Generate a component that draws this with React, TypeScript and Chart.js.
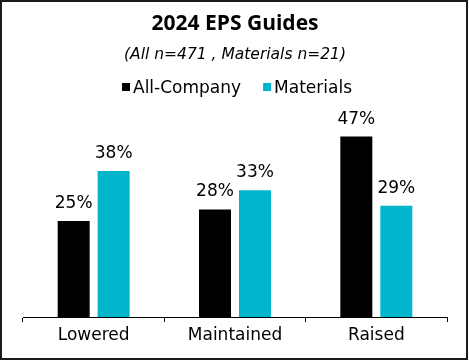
import React, { useEffect, useRef } from "react";
import { Chart, registerables } from "chart.js";

Chart.register(...registerables);

const categories = ["Lowered", "Maintained", "Raised"];
const allCompany = [25, 28, 47];
const materials = [38, 33, 29];
const seriesNames = ["All-Company", "Materials"];
const titleText = "2024 EPS Guides";
const subtitleText = "(All n=471 , Materials n=21)";

const BLACK = "#000000";
const CYAN = "#00B5CC";
const FONT = "'DejaVu Sans', sans-serif";

const frameAndLabels = {
  id: "frameAndLabels",
  afterDatasetsDraw(chart: any) {
    const ctx = chart.ctx;
    ctx.save();
    ctx.fillStyle = "#000";
    ctx.font = `17px ${FONT}`;
    ctx.textAlign = "center";
    ctx.textBaseline = "alphabetic";
    chart.data.datasets.forEach((ds: any, i: number) => {
      const meta = chart.getDatasetMeta(i);
      meta.data.forEach((bar: any, j: number) => {
        ctx.fillText(`${ds.data[j]}%`, bar.x, bar.y - 13);
      });
    });
    ctx.restore();
  },
  afterDraw(chart: any) {
    const ctx = chart.ctx;
    ctx.save();
    // custom legend
    ctx.font = `17px ${FONT}`;
    ctx.textBaseline = "alphabetic";
    ctx.textAlign = "left";
    const box = 8;
    const gapText = 3;
    const gapItem = 22;
    const items = chart.data.datasets.map((ds: any) => ({
      label: ds.label,
      color: ds.backgroundColor,
      w: ctx.measureText(ds.label).width,
    }));
    const total =
      items.reduce((s: number, it: any) => s + box + gapText + it.w, 0) +
      gapItem * (items.length - 1);
    const cx = (chart.chartArea.left + chart.chartArea.right) / 2 + 2;
    let x = cx - total / 2;
    const baseY = chart.chartArea.top - 32;
    items.forEach((it: any) => {
      ctx.fillStyle = it.color;
      ctx.fillRect(x, baseY - 10, box, box);
      x += box + gapText;
      ctx.fillStyle = "#000";
      ctx.fillText(it.label, x, baseY);
      x += it.w + gapItem;
    });
    // outer frame
    ctx.strokeStyle = "#1a1a1a";
    ctx.lineWidth = 2;
    ctx.strokeRect(1, 1, chart.width - 3, chart.height - 3);
    ctx.restore();
  },
};

export default function App() {
  const ref = useRef<HTMLCanvasElement | null>(null);
  useEffect(() => {
    document.body.style.margin = "0";
    const canvas = ref.current;
    if (!canvas) return;
    const chart = new Chart(canvas, {
      type: "bar",
      data: {
        labels: categories,
        datasets: [
          {
            label: seriesNames[0],
            data: allCompany,
            backgroundColor: BLACK,
            categoryPercentage: 0.566,
            barPercentage: 0.8,
          },
          {
            label: seriesNames[1],
            data: materials,
            backgroundColor: CYAN,
            categoryPercentage: 0.566,
            barPercentage: 0.8,
          },
        ],
      },
      options: {
        responsive: false,
        animation: false,
        devicePixelRatio: 1,
        layout: { padding: { top: 0, left: 23, right: 22, bottom: 12.6 } },
        plugins: {
          legend: { display: false },
          tooltip: { enabled: false },
          title: {
            display: true,
            text: titleText,
            color: "#000",
            font: { family: "'Open Sans', sans-serif", size: 21, weight: "bold" },
            padding: { top: 11, bottom: 9 },
          },
          subtitle: {
            display: true,
            text: subtitleText,
            color: "#000",
            font: { family: FONT, size: 15.5, style: "italic" },
            padding: { top: 0, bottom: 61.2 },
          },
        },
        scales: {
          x: {
            grid: {
              display: true,
              drawOnChartArea: false,
              drawTicks: true,
              tickLength: 5,
              color: "#000",
              offset: true,
            },
            border: { display: true, color: "#000", width: 1 },
            ticks: { color: "#000", font: { family: FONT, size: 17 }, padding: 3 },
          },
          y: {
            display: false,
            min: 0,
            max: 50,
          },
        },
      },
      plugins: [frameAndLabels],
    });
    return () => chart.destroy();
  }, []);
  return (
    <div style={{ width: 469, height: 361 }}>
      <canvas ref={ref} width={469} height={361} style={{ display: "block" }} />
    </div>
  );
}
